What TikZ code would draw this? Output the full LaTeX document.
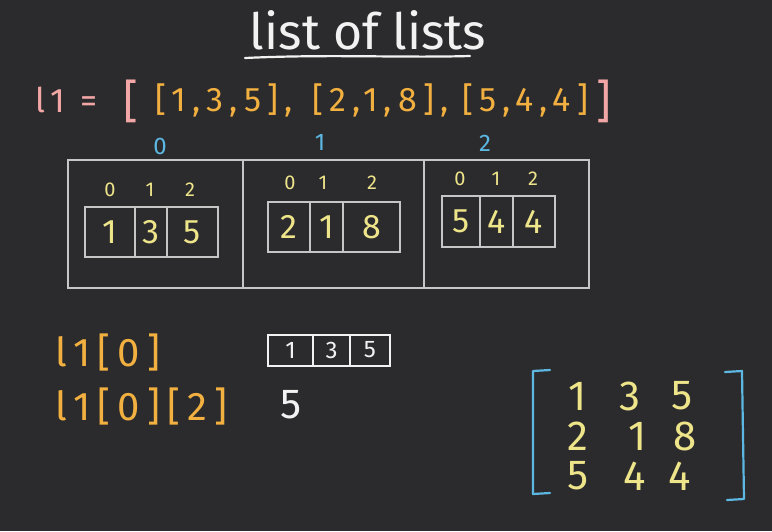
\documentclass[tikz,border=0pt]{standalone}
\usepackage{fontspec}
\setmainfont{Fira Sans}
\newfontfamily\hand{Fira Sans}
\newfontfamily\handw[LetterSpace=18]{Fira Sans}
\definecolor{bg}{HTML}{2B2B2D}
\definecolor{chalk}{HTML}{F2F2F2}
\definecolor{pinkc}{HTML}{F2A6A6}
\definecolor{orangec}{HTML}{F2B040}
\definecolor{yell}{HTML}{EEE48A}
\definecolor{bluec}{HTML}{5CB8E2}
\definecolor{grayc}{HTML}{C6C6C6}
\begin{document}
\begin{tikzpicture}[x=1pt,y=-1pt,
  txt/.style={inner sep=0, font=\hand\fontsize{#1}{#1}\selectfont},
  wtxt/.style={inner sep=0, font=\handw\fontsize{#1}{#1}\selectfont},
  obox/.style={draw=grayc, line width=2pt, inner sep=0, minimum height=128},
  cell/.style={draw=grayc, line width=2pt, inner sep=0, text=yell,
    font=\hand\fontsize{34}{34}\selectfont},
  wcell/.style={draw=chalk, line width=2pt, inner sep=0, text=chalk, minimum height=31,
    font=\hand\fontsize{24}{24}\selectfont},
  idx/.style={txt=20, text=yell},
  bidx/.style={txt=24, text=bluec},
  mnum/.style={txt=42, text=yell},
  chalkline/.style={line width=2.2pt, line cap=round, line join=round}
]
\fill[bg] (0,0) rectangle (772,531);
\useasboundingbox (0,0) rectangle (772,531);

% title
\node[txt=50, text=chalk] (title) at (368,30) {list of lists};
\coordinate (ulA) at (245,58);
\coordinate (ulB) at (470,56);
\draw[chalk, chalkline] (ulA) .. controls (330,54) and (400,58) .. (ulB);

% l1 definition
\node[wtxt=34, text=pinkc, anchor=west] (lhs) at (35,100) {l1 =};
\node[txt=46, text=pinkc] (ob) at (131,101) {[};
\node[wtxt=34, text=orangec, anchor=west] (s0) at (155,100) {[1,3,5],};
\node[wtxt=34, text=orangec, anchor=west] (s1) at (312,100) {[2,1,8],};
\node[wtxt=34, text=orangec, anchor=west] (s2) at (462,100) {[5,4,4]};
\node[txt=46, text=pinkc] (cb) at (604,101) {]};

% outer list boxes
\node[obox, minimum width=175] (o0) at (155.5,224) {};
\node[obox, minimum width=181] (o1) at (333.5,224) {};
\node[obox, minimum width=165] (o2) at (506.5,224) {};
\node[bidx] (b0) at (160,146) {0};
\node[bidx] (b1) at (320,142) {1};
\node[bidx] (b2) at (485,143) {2};

% inner list 0
\node[cell, minimum width=50, minimum height=50] (a00) at (110,232) {1};
\node[cell, minimum width=32, minimum height=50] (a01) at (151,232) {3};
\node[cell, minimum width=51, minimum height=50] (a02) at (192.5,232) {5};
\node[idx] (i00) at (110,190) {0};
\node[idx] (i01) at (150,190) {1};
\node[idx] (i02) at (190,190) {2};

% inner list 1
\node[cell, minimum width=42, minimum height=50] (a10) at (289,227) {2};
\node[cell, minimum width=33, minimum height=50] (a11) at (326.5,227) {1};
\node[cell, minimum width=57, minimum height=50] (a12) at (371.5,227) {8};
\node[idx] (i10) at (290,183) {0};
\node[idx] (i11) at (323,183) {1};
\node[idx] (i12) at (372,183) {2};

% inner list 2
\node[cell, minimum width=38, minimum height=51] (a20) at (461,221.5) {5};
\node[cell, minimum width=33, minimum height=51] (a21) at (496.5,221.5) {4};
\node[cell, minimum width=42, minimum height=51] (a22) at (534,221.5) {4};
\node[idx] (i20) at (460,179) {0};
\node[idx] (i21) at (496,179) {1};
\node[idx] (i22) at (533,179) {2};

% indexing examples
\node[wtxt=40, text=orangec, anchor=west] (e1) at (55,352) {l1[0]};
\node[wtxt=40, text=orangec, anchor=west] (e2) at (55,406) {l1[0][2]};
\node[wcell, minimum width=45] (w0) at (290.5,350) {1};
\node[wcell, minimum width=37] (w1) at (331.5,350) {3};
\node[wcell, minimum width=40] (w2) at (370,350) {5};
\node[txt=42, text=chalk] (r5) at (291,405) {5};

% matrix
\node[mnum] (m00) at (578,396) {1};
\node[mnum] (m01) at (630,396) {3};
\node[mnum] (m02) at (682,396) {5};
\node[mnum] (m10) at (578,436) {2};
\node[mnum] (m11) at (638,436) {1};
\node[mnum] (m12) at (685,436) {8};
\node[mnum] (m20) at (578,476) {5};
\node[mnum] (m21) at (635,476) {4};
\node[mnum] (m22) at (680,476) {4};
\draw[bluec, chalkline] (550,370) -- (533,371) -- (533,494) -- (550,493);
\draw[bluec, chalkline] (725,372) -- (742,371) -- (744,499) -- (727,500);
\end{tikzpicture}
\end{document}
